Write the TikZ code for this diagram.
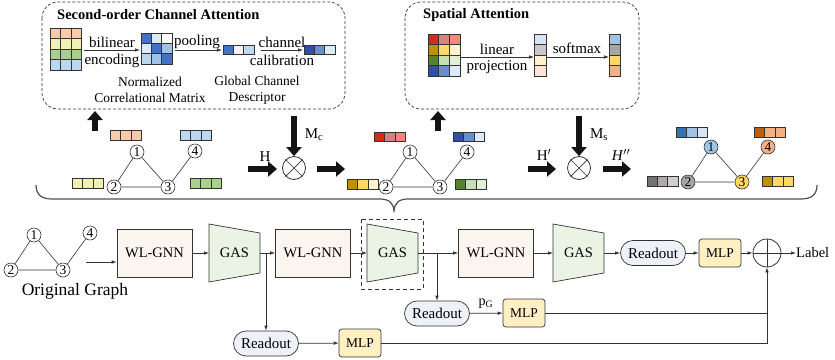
\documentclass[tikz,border=0pt]{standalone}
\usepackage{fontspec}
\setmainfont{Liberation Serif}
\usetikzlibrary{arrows.meta}

% palette
\definecolor{ink}{HTML}{333333}
\definecolor{braceg}{HTML}{505050}
\definecolor{cSal}{HTML}{F8CBAD}
\definecolor{cYel}{HTML}{F0F2B4}
\definecolor{cGrn}{HTML}{A9D18E}
\definecolor{cLbl}{HTML}{BDD7EE}
\definecolor{cB1}{HTML}{4472C4}
\definecolor{cVl}{HTML}{DEEBF7}
\definecolor{cB3}{HTML}{9DC3E6}
\definecolor{cPale}{HTML}{F0F4FA}
\definecolor{cDb}{HTML}{2F4FA8}
\definecolor{cMb}{HTML}{6A8FD0}
\definecolor{cRed}{HTML}{D42A20}
\definecolor{cRose}{HTML}{D98080}
\definecolor{cSalm}{HTML}{F4877A}
\definecolor{cGold}{HTML}{BF9000}
\definecolor{cYg}{HTML}{FFD966}
\definecolor{cCream}{HTML}{FFF2CC}
\definecolor{cDg}{HTML}{548235}
\definecolor{cLg}{HTML}{C5E0B4}
\definecolor{cVlg}{HTML}{E2F0D9}
\definecolor{cIce}{HTML}{DAE3F3}
\definecolor{cGr}{HTML}{C9C9C9}
\definecolor{cPeach}{HTML}{FCE4D6}
\definecolor{cGr2}{HTML}{A6A6A6}
\definecolor{cOr}{HTML}{F4B183}
\definecolor{cDor}{HTML}{C55A11}
\definecolor{cSb}{HTML}{2E75B6}
\definecolor{cDgr}{HTML}{767171}
\definecolor{cMgr}{HTML}{AEAAAA}
\definecolor{cLgr}{HTML}{D0CECE}
\definecolor{cWL}{HTML}{FBF5EF}
\definecolor{cGAS}{HTML}{EAF3E4}
\definecolor{cRd}{HTML}{EEF2F8}
\definecolor{cMLP}{HTML}{FFF0C4}

% a horizontal strip of coloured cells: x, y (top left), width, height, colours
\newcommand{\hcells}[5]{%
  \foreach \cc [count=\ii from 0] in {#5}{
    \draw[cellline, fill=\cc] ({#1+\ii*#3},#2) rectangle ++(#3,#4);
  }}
% a vertical strip of coloured cells
\newcommand{\vcells}[5]{%
  \foreach \cc [count=\ii from 0] in {#5}{
    \draw[cellline, fill=\cc] (#1,{#2+\ii*#4}) rectangle ++(#3,#4);
  }}
% pooling block drawn as a trapezoid: name, left x
\newcommand{\gasblock}[2]{%
  \draw[ink, line width=0.7pt, fill=cGAS]
    (#2,224) -- ({#2+51},233) -- ({#2+51},273) -- (#2,282) -- cycle;
  \node[font=\fontsize{14.5}{15}\selectfont] (#1) at ({#2+25.5},253) {GAS};
  \coordinate (#1-in) at (#2,253);
  \coordinate (#1-out) at ({#2+51},253);}

\begin{document}
\begin{tikzpicture}[x=1pt,y=-1pt,
  cellline/.style={draw=ink, line width=0.6pt},
  gnode/.style={circle, draw=ink, line width=0.6pt, fill=white,
    minimum size=14pt, inner sep=0pt, font=\fontsize{13.5}{13.5}\selectfont},
  gedge/.style={draw=ink, line width=0.6pt},
  dashbox/.style={draw=ink, line width=0.7pt, dash pattern=on 3pt off 2pt,
    rounded corners=16pt},
  arr/.style={draw=ink, line width=0.7pt, -{Latex[length=5pt,width=3.6pt]}},
  plain/.style={draw=ink, line width=0.7pt},
  fat/.style={draw=black!92, line width=6.5pt, -{Triangle[length=9pt,width=15pt]}},
  lab/.style={font=\fontsize{15}{17}\selectfont, inner sep=0pt},
  note/.style={font=\fontsize{13.5}{16}\selectfont, align=center, inner sep=0pt},
  ttl/.style={font=\bfseries\fontsize{14.5}{16}\selectfont, anchor=west, inner sep=0pt},
  wlbox/.style={draw=ink, line width=0.7pt, fill=cWL, minimum width=75pt,
    minimum height=48pt, inner sep=0pt, font=\fontsize{14.5}{15}\selectfont},
  readout/.style={draw=ink, line width=0.7pt, fill=cRd, rounded corners=12.5pt,
    minimum width=65pt, minimum height=25pt, inner sep=0pt,
    font=\fontsize{15}{16}\selectfont},
  mlp/.style={draw=ink, line width=0.7pt, fill=cMLP, rounded corners=3pt,
    minimum width=42pt, minimum height=28pt, inner sep=0pt,
    font=\fontsize{13.5}{15}\selectfont},
  opnode/.style={circle, draw=ink, line width=0.8pt, fill=white, inner sep=0pt},
]
\useasboundingbox (0,0) rectangle (835,359);

%---------------- second-order channel attention ----------------
\draw[dashbox] (42,2) rectangle (345,109);
\node[ttl] (t1) at (57,15) {Second-order Channel Attention};

\hcells{50}{28}{10.5}{10.5}{cSal,cSal,cSal}
\hcells{50}{38.5}{10.5}{10.5}{cYel,cYel,cYel}
\hcells{50}{49}{10.5}{10.5}{cGrn,cGrn,cGrn}
\hcells{50}{59.5}{10.5}{10.5}{cLbl,cLbl,cLbl}
\coordinate (g1e) at (84,50);

\hcells{141}{33}{10.3}{10.3}{cB1,cVl,white}
\hcells{141}{43.3}{10.3}{10.3}{cVl,cB1,cB3}
\hcells{141}{53.6}{10.3}{10.3}{cLbl,cB3,cB1}
\coordinate (m1w) at (140,50);
\coordinate (m1e) at (175,50);

\hcells{223}{45}{10.3}{9.5}{cB1,cPale,cLbl}
\coordinate (v1w) at (222,50);
\coordinate (v1e) at (261,50);

\hcells{304}{45}{10.3}{9.5}{cDb,cMb,cVl}
\coordinate (v2w) at (303,50);

\draw[arr] (g1e) -- (m1w);
\node[lab] (bil) at (112,42.5) {bilinear};
\node[lab] (enc) at (112,60.5) {encoding};
\draw[arr] (m1e) -- (v1w);
\node[lab] (pool) at (197,42) {pooling};
\draw[arr] (v1e) -- (v2w);
\node[lab] (chan) at (282,42.5) {channel};
\node[lab] (cal) at (282,60.5) {calibration};

\node[note] (ncm) at (150,90) {Normalized\\Correlational Matrix};
\node[note] (gcd) at (257,90) {Global Channel\\Descriptor};

%---------------- spatial attention ----------------
\draw[dashbox] (405,2) rectangle (639,109);
\node[ttl] (t2) at (423,15) {Spatial Attention};

\hcells{428}{34}{10.7}{10.5}{cRed,cRose,cSalm}
\hcells{428}{44.5}{10.7}{10.5}{cGold,cYg,cCream}
\hcells{428}{55}{10.7}{10.5}{cDg,cLg,cVlg}
\hcells{428}{65.5}{10.7}{10.5}{cDb,cMb,cVl}
\coordinate (g2e) at (460,57);

\vcells{534}{34}{12}{10.5}{cIce,cGr,cCream,cPeach}
\coordinate (c1w) at (534,57);
\coordinate (c1e) at (546,57);

\vcells{609}{34}{11.5}{10.5}{cB3,cGr2,cYg,cOr}
\coordinate (c2w) at (609,57);

\draw[arr] (g2e) -- (c1w);
\node[lab] (lin) at (497,49) {linear};
\node[lab] (proj) at (497,67) {projection};
\draw[arr] (c1e) -- (c2w);
\node[lab] (soft) at (577,48) {softmax};

%---------------- graphs with node features ----------------
% input features
\node[gnode] (b1) at (137,152) {1};
\node[gnode] (b4) at (195,151) {4};
\node[gnode] (b2) at (114,187) {2};
\node[gnode] (b3) at (168,187) {3};
\draw[gedge] (b1) -- (b2) (b1) -- (b3) (b2) -- (b3) (b3) -- (b4);
\hcells{110}{130}{10.5}{10.5}{cSal,cSal,cSal}
\hcells{180}{130}{10.5}{10.5}{cLbl,cLbl,cLbl}
\hcells{72}{178}{10.5}{10.5}{cYel,cYel,cYel}
\hcells{190}{178}{10.5}{10.5}{cGrn,cGrn,cGrn}

% channel-weighted features
\node[gnode] (c1) at (410,152) {1};
\node[gnode] (c4) at (467,152) {4};
\node[gnode] (c2) at (386,187) {2};
\node[gnode] (c3) at (440,187) {3};
\draw[gedge] (c1) -- (c2) (c1) -- (c3) (c2) -- (c3) (c3) -- (c4);
\hcells{374}{132}{10.5}{9.5}{cRed,cRose,cSalm}
\hcells{453}{132}{10.5}{9.5}{cDb,cMb,cVl}
\hcells{347}{179}{10.5}{10}{cGold,cYg,cCream}
\hcells{455}{179}{10.5}{10}{cDg,cLg,cVlg}

% spatially weighted features
\node[gnode, fill=cB3] (d1) at (711,147) {1};
\node[gnode, fill=cOr] (d4) at (768,147) {4};
\node[gnode, fill=cGr2] (d2) at (688,182) {2};
\node[gnode, fill=cYg] (d3) at (742,182) {3};
\draw[gedge] (d1) -- (d2) (d1) -- (d3) (d2) -- (d3) (d3) -- (d4);
\hcells{676}{127}{10.5}{10}{cSb,cB3,cIce}
\hcells{754}{127}{10.5}{10}{cDor,cOr,cOr}
\hcells{647}{176}{10.3}{10}{cDgr,cMgr,cLgr}
\hcells{762}{176}{10.5}{10}{cGold,cYg,cYg}

% element-wise products
\node[opnode, minimum size=23pt] (ot1) at (294,168) {};
\draw[plain] (ot1.north east) -- (ot1.south west) (ot1.north west) -- (ot1.south east);
\node[opnode, minimum size=23pt] (ot2) at (579,168) {};
\draw[plain] (ot2.north east) -- (ot2.south west) (ot2.north west) -- (ot2.south east);

% heavy arrows
\coordinate (u1s) at (95,131);  \coordinate (u1e) at (95,111);
\coordinate (u2s) at (438,131); \coordinate (u2e) at (438,111);
\coordinate (mcs) at (294,116); \coordinate (mse) at (579,116);
\coordinate (hs) at (248,169);  \coordinate (hos) at (317,169);
\coordinate (h1s) at (528,169); \coordinate (h2s) at (603,169);
\draw[fat] (u1s) -- (u1e);
\draw[fat] (u2s) -- (u2e);
\draw[fat] (mcs) -- (ot1.north);
\draw[fat] (mse) -- (ot2.north);
\draw[fat] (hs) -- ++(29,0);
\draw[fat] (hos) -- ++(28,0);
\draw[fat] (h1s) -- ++(28,0);
\draw[fat] (h2s) -- ++(28,0);
\node[lab] (hl) at (265,157) {H};
\node[lab] (mcl) at (314,135) {M\textsubscript{c}};
\node[lab] (h1l) at (544,155) {H$'$};
\node[lab] (msl) at (599,135) {M\textsubscript{s}};
\node[lab] (h2l) at (621,155) {\textit{H}$''$};

% brace gathering the attention stage
\draw[braceg, line width=1.2pt]
  (36,185) .. controls (36,195) and (42,199) .. (52,199) -- (380,199)
  .. controls (389,199) and (394,203) .. (394,212)
  .. controls (394,203) and (399,199) .. (408,199) -- (801,199)
  .. controls (811,199) and (817,195) .. (817,185);

%---------------- pipeline ----------------
\node[gnode] (a1) at (34,235) {1};
\node[gnode] (a4) at (90,233) {4};
\node[gnode] (a2) at (11,270) {2};
\node[gnode] (a3) at (63,270) {3};
\draw[gedge] (a1) -- (a2) (a1) -- (a3) (a2) -- (a3) (a3) -- (a4);
\node[font=\fontsize{17.5}{19}\selectfont] (ogl) at (75,291) {Original Graph};
\coordinate (ogout) at (86,262);

\node[wlbox] (wl1) at (154.5,253) {WL-GNN};
\gasblock{gas1}{209}
\node[wlbox] (wl2) at (313,253) {WL-GNN};
\gasblock{gas2}{367}
\draw[ink, line width=0.7pt, dash pattern=on 4pt off 3pt] (361,219) rectangle (423,289);
\node[wlbox] (wl3) at (496,253) {WL-GNN};
\gasblock{gas3}{553}

\node[readout] (rd3) at (653,253) {Readout};
\node[mlp] (mlp3) at (720,253) {MLP};
\node[opnode, minimum size=28pt] (sum) at (767,253) {};
\draw[plain] (sum.north) -- (sum.south) (sum.west) -- (sum.east);
\node[font=\fontsize{14.5}{16}\selectfont, anchor=west, inner sep=0pt] (lbl) at (796,253) {Label};

\node[readout] (rd2) at (437,313.5) {Readout};
\node[mlp] (mlp2) at (524,313) {MLP};
\node[lab, font=\fontsize{14}{16}\selectfont] (pg) at (486,304) {p\textsubscript{G}};

\node[readout] (rd1) at (266,343.5) {Readout};
\node[mlp] (mlp1) at (360,343) {MLP};

\coordinate (br1) at (266,253);
\coordinate (br2) at (437,253);

\draw[arr] (ogout) -- (ogout -| wl1.west);
\draw[arr] (wl1) -- (gas1-in);
\draw[arr] (gas1-out) -- (wl2);
\draw[arr] (br1) -- (rd1);
\draw[arr] (wl2) -- (gas2-in);
\draw[arr] (gas2-out) -- (wl3);
\draw[arr] (br2) -- (rd2);
\draw[arr] (wl3) -- (gas3-in);
\draw[arr] (gas3-out) -- (rd3);
\draw[arr] (rd3) -- (mlp3);
\draw[arr] (mlp3) -- (sum);
\draw[arr] (sum) -- (lbl);
\draw[arr] (rd2) -- (mlp2);
\draw[arr] (rd1) -- (mlp1);
\draw[plain] (mlp2.east) -- (mlp2.east -| sum.south);
\draw[arr] (mlp1.east) -| (sum.south);
\end{tikzpicture}
\end{document}
